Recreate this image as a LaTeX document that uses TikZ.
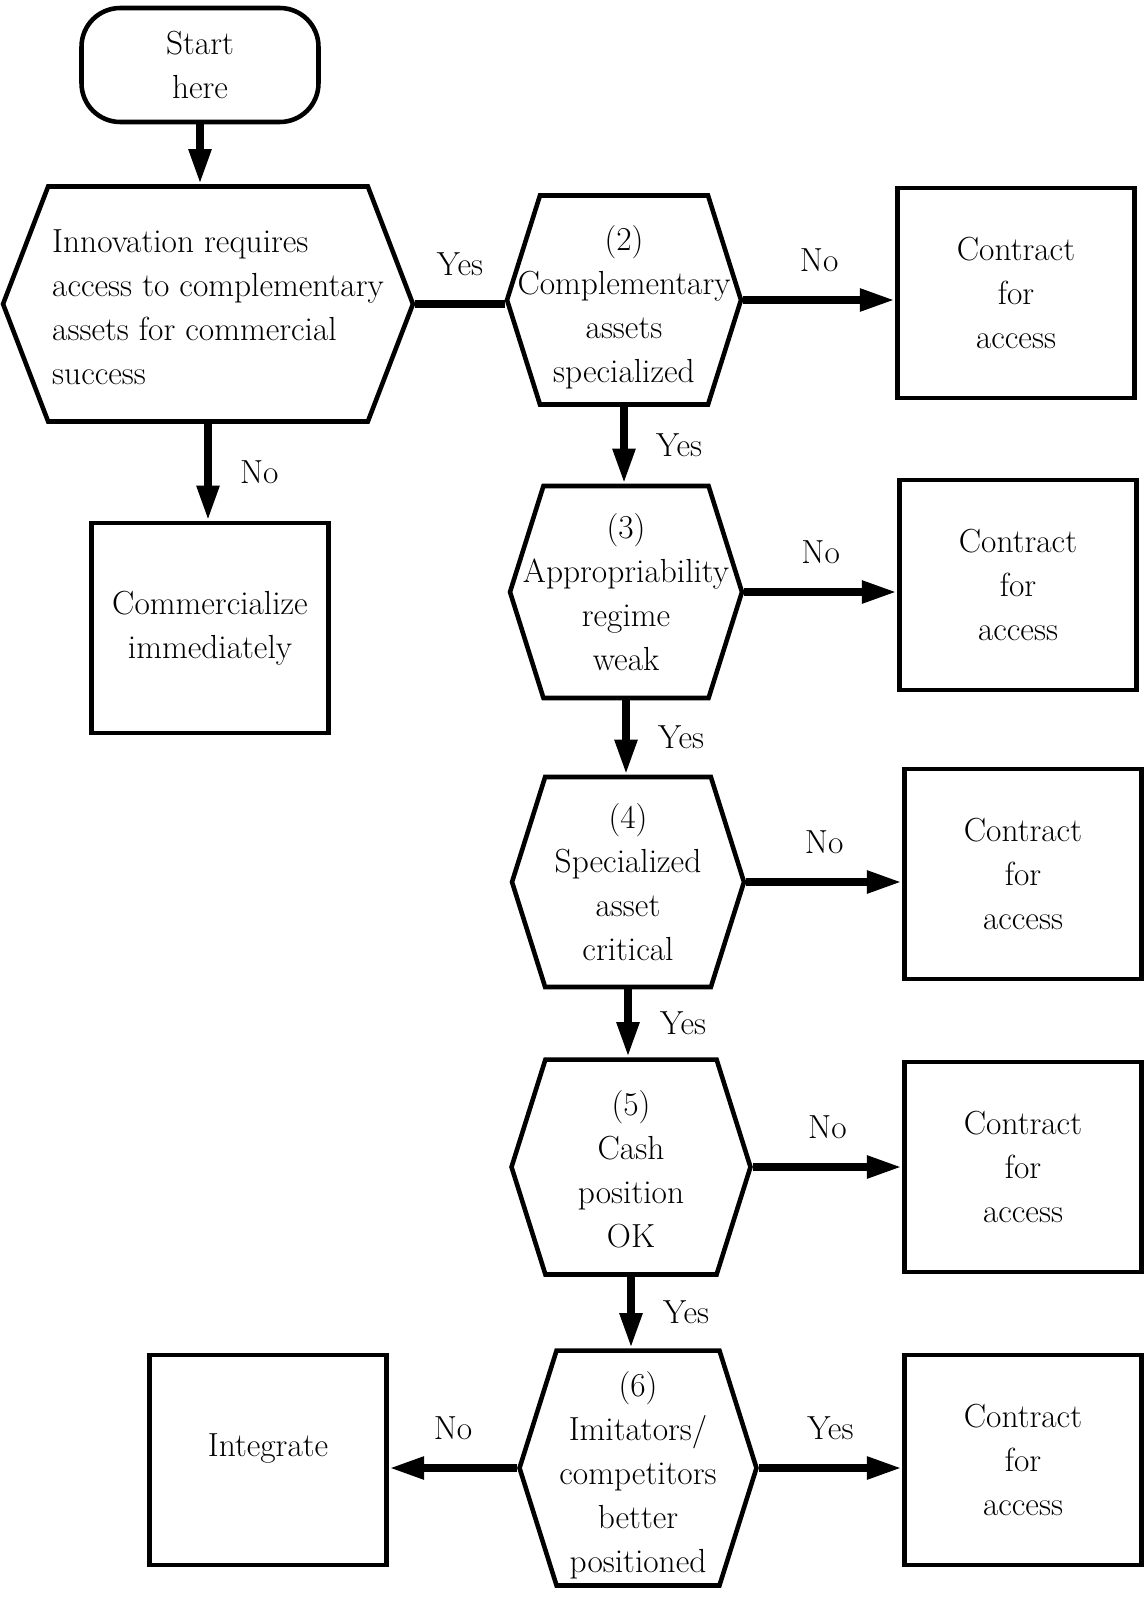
\documentclass[tikz,border=0pt]{standalone}
\usetikzlibrary{arrows.meta,shapes.symbols}
\begin{document}
\begin{tikzpicture}[
        x=0.02cm, y=-0.02cm,
        every node/.style = {font=\fontsize{19}{25}\selectfont},
        hexa/.style = {signal, signal to=east and west, signal from=nowhere, signal pointer angle=145,
            draw, line width=2.6pt, inner sep=0pt},
        box/.style = {rectangle, draw, line width=2.6pt, align=center, minimum width=4.75cm, minimum height=4.2cm},
        txt/.style = {align=center, inner sep=0pt},
        lbl/.style = {inner sep=0pt},
        link/.style = {line width=4.5pt},
        arr/.style = {link, -{Triangle[length=20pt, width=12pt]}}
    ]
        \useasboundingbox (0,0) rectangle (1145,1599);
        \node[draw, line width=2.6pt, rounded corners=22pt, align=center, minimum width=4.74cm, minimum height=2.28cm] (start) at (200,65) {Start\\here};
        \node[hexa, signal pointer angle=138, minimum width=8.2cm, minimum height=4.7cm] (q1) at (208,304) {};
        \node[txt, align=left] (q1t) at (218,307) {Innovation requires\\access to complementary\\assets for commercial\\success};
        \node[box] (comm) at (210,628) {Commercialize\\immediately};
        \node[hexa, minimum width=4.68cm, minimum height=4.18cm] (q2) at (624,300) {};
        \node[txt] (q2t) at (624,307) {(2)\\Complementary\\assets\\specialized};
        \node[hexa, minimum width=4.64cm, minimum height=4.24cm] (q3) at (626,592) {};
        \node[txt] (q3t) at (626,592) {(3)\\Appropriability\\regime\\weak};
        \node[hexa, minimum width=4.64cm, minimum height=4.2cm] (q4) at (628,882) {};
        \node[txt] (q4t) at (628,882) {(4)\\Specialized\\asset\\critical};
        \node[hexa, minimum width=4.78cm, minimum height=4.3cm] (q5) at (631,1167) {};
        \node[txt] (q5t) at (631,1169) {(5)\\Cash\\position\\OK};
        \node[hexa, minimum width=4.74cm, minimum height=4.7cm] (q6) at (638,1468) {};
        \node[txt] (q6t) at (638,1475) {(6)\\Imitators/\\competitors\\better\\positioned};
        \node[box] (c2) at (1016,293) {Contract\\for\\access};
        \node[box] (c3) at (1018,585) {Contract\\for\\access};
        \node[box] (c4) at (1023,874) {Contract\\for\\access};
        \node[box] (c5) at (1023,1167) {Contract\\for\\access};
        \node[box] (c6) at (1023,1460) {Contract\\for\\access};
        \node[box] (integ) at (268,1460) {};
        \node[txt] (integt) at (268,1448) {Integrate};

        \draw[arr] (start.south) -- (start.south |- q1.north);
        \draw[link] (q1.east) -- node[lbl, above=14pt] (y1) {Yes} (q1.east -| q2.west);
        \draw[arr] (q1.south) -- node[lbl, right=16pt] (n1) {No} (q1.south |- comm.north);
        \draw[arr] (q2.east) -- node[lbl, above=14pt] (n2) {No} (q2.east -| c2.west);
        \draw[arr] (q2.south) -- node[lbl, right=16pt] (y2) {Yes} (q2.south |- q3.north);
        \draw[arr] (q3.east) -- node[lbl, above=14pt] (n3) {No} (q3.east -| c3.west);
        \draw[arr] (q3.south) -- node[lbl, right=16pt] (y3) {Yes} (q3.south |- q4.north);
        \draw[arr] (q4.east) -- node[lbl, above=14pt] (n4) {No} (q4.east -| c4.west);
        \draw[arr] (q4.south) -- node[lbl, right=16pt] (y4) {Yes} (q4.south |- q5.north);
        \draw[arr] (q5.east) -- node[lbl, above=14pt] (n5) {No} (q5.east -| c5.west);
        \draw[arr] (q5.south) -- node[lbl, right=16pt] (y5) {Yes} (q5.south |- q6.north);
        \draw[arr] (q6.east) -- node[lbl, above=14pt] (y6) {Yes} (q6.east -| c6.west);
        \draw[arr] (q6.west) -- node[lbl, above=14pt] (n6) {No} (q6.west -| integ.east);
    \end{tikzpicture}
\end{document}
